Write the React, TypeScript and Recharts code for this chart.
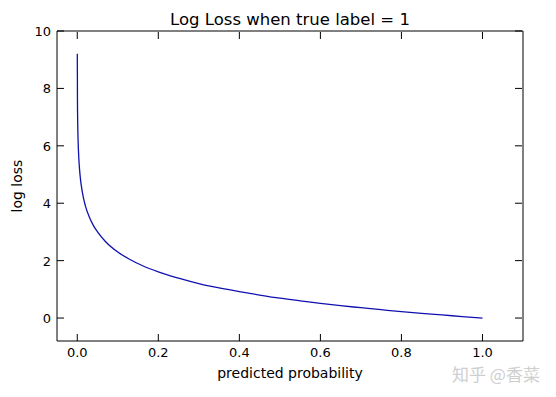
import { LineChart, Line, XAxis, YAxis } from "recharts";

// predicted probability for true label = 1, and the log loss
const probs = [
  0.0001, 0.0005, 0.001, 0.002, 0.003, 0.005, 0.0075, 0.01, 0.015, 0.02, 0.03,
  0.04, 0.05, 0.07, 0.1, 0.13, 0.16, 0.2, 0.25, 0.3, 0.35, 0.4, 0.45, 0.5, 0.55,
  0.6, 0.65, 0.7, 0.75, 0.8, 0.85, 0.9, 0.95, 1.0,
];
const losses = [
  9.21, 7.6, 6.91, 6.21, 5.81, 5.3, 4.89, 4.61, 4.2, 3.91, 3.51, 3.22, 3.0,
  2.66, 2.3, 2.04, 1.83, 1.61, 1.39, 1.2, 1.05, 0.92, 0.8, 0.69, 0.6, 0.51,
  0.43, 0.36, 0.29, 0.22, 0.16, 0.11, 0.05, 0,
];
const xTicks = [0, 0.2, 0.4, 0.6, 0.8, 1.0];
const yTicks = [0, 2, 4, 6, 8, 10];

const data = probs.map((p, i) => ({ p, loss: losses[i] }));

const FONT = "'DejaVu Sans', sans-serif";
const TICK = 7;

const BottomTick = (props: any) => {
  const { x, y, payload } = props;
  return (
    <g>
      <line x1={x} y1={y} x2={x} y2={y - TICK} stroke="#000" />
      <text x={x} y={y + 16} textAnchor="middle" fontSize={13} fontFamily={FONT} fill="#000">
        {payload.value.toFixed(1)}
      </text>
    </g>
  );
};

const TopTick = (props: any) => {
  const { x, y } = props;
  return <line x1={x} y1={y + 1} x2={x} y2={y + 1 + TICK} stroke="#000" />;
};

const LeftTick = (props: any) => {
  const { x, y, payload } = props;
  return (
    <g>
      <line x1={x} y1={y} x2={x + TICK} y2={y} stroke="#000" />
      <text x={x - 6} y={y + 5} textAnchor="end" fontSize={13} fontFamily={FONT} fill="#000">
        {payload.value}
      </text>
    </g>
  );
};

const RightTick = (props: any) => {
  const { x, y } = props;
  return <line x1={x - 1} y1={y} x2={x - 1 - TICK} y2={y} stroke="#000" />;
};

export default function App() {
  return (
    <div style={{ position: "absolute", left: 0, top: 0, width: 556, height: 397, background: "#fff" }}>
      <LineChart
        width={556}
        height={397}
        data={data}
        margin={{ top: 30, right: 32, bottom: 0, left: 0 }}
      >
        <XAxis
          dataKey="p"
          type="number"
          domain={[-0.05, 1.1]}
          ticks={xTicks}
          allowDataOverflow
          height={56}
          tickSize={0}
          tickMargin={0}
          tick={<BottomTick />}
          axisLine={{ stroke: "#000" }}
        />
        <XAxis
          xAxisId="top"
          orientation="top"
          dataKey="p"
          type="number"
          domain={[-0.05, 1.1]}
          ticks={xTicks}
          allowDataOverflow
          height={1}
          tickSize={0}
          tickMargin={0}
          tick={<TopTick />}
          axisLine={{ stroke: "#000" }}
        />
        <YAxis
          type="number"
          domain={[-0.8, 10]}
          ticks={yTicks}
          allowDataOverflow
          width={57}
          tickSize={0}
          tickMargin={0}
          tick={<LeftTick />}
          axisLine={{ stroke: "#000" }}
        />
        <YAxis
          yAxisId="right"
          orientation="right"
          type="number"
          domain={[-0.8, 10]}
          ticks={yTicks}
          allowDataOverflow
          width={1}
          tickSize={0}
          tickMargin={0}
          tick={<RightTick />}
          axisLine={{ stroke: "#000" }}
        />
        <Line
          dataKey="loss"
          type="monotone"
          stroke="#1010b0"
          strokeWidth={1.3}
          dot={false}
          isAnimationActive={false}
        />
        <Line
          xAxisId="top"
          yAxisId="right"
          dataKey="loss"
          stroke="transparent"
          dot={false}
          legendType="none"
          isAnimationActive={false}
        />
        <text x={290} y={25} textAnchor="middle" fontSize={16.5} fontFamily={FONT} fill="#000">
          Log Loss when true label = 1
        </text>
        <text x={290} y={378} textAnchor="middle" fontSize={14} fontFamily={FONT} fill="#000">
          predicted probability
        </text>
        <text
          x={22}
          y={186}
          textAnchor="middle"
          fontSize={14}
          fontFamily={FONT}
          fill="#000"
          transform="rotate(-90 22 186)"
        >
          log loss
        </text>
        <text x={452} y={381} fontSize={17} fontFamily="'Noto Sans CJK SC', sans-serif" fill="#cfcfcf">
          知乎 @香菜
        </text>
      </LineChart>
    </div>
  );
}
